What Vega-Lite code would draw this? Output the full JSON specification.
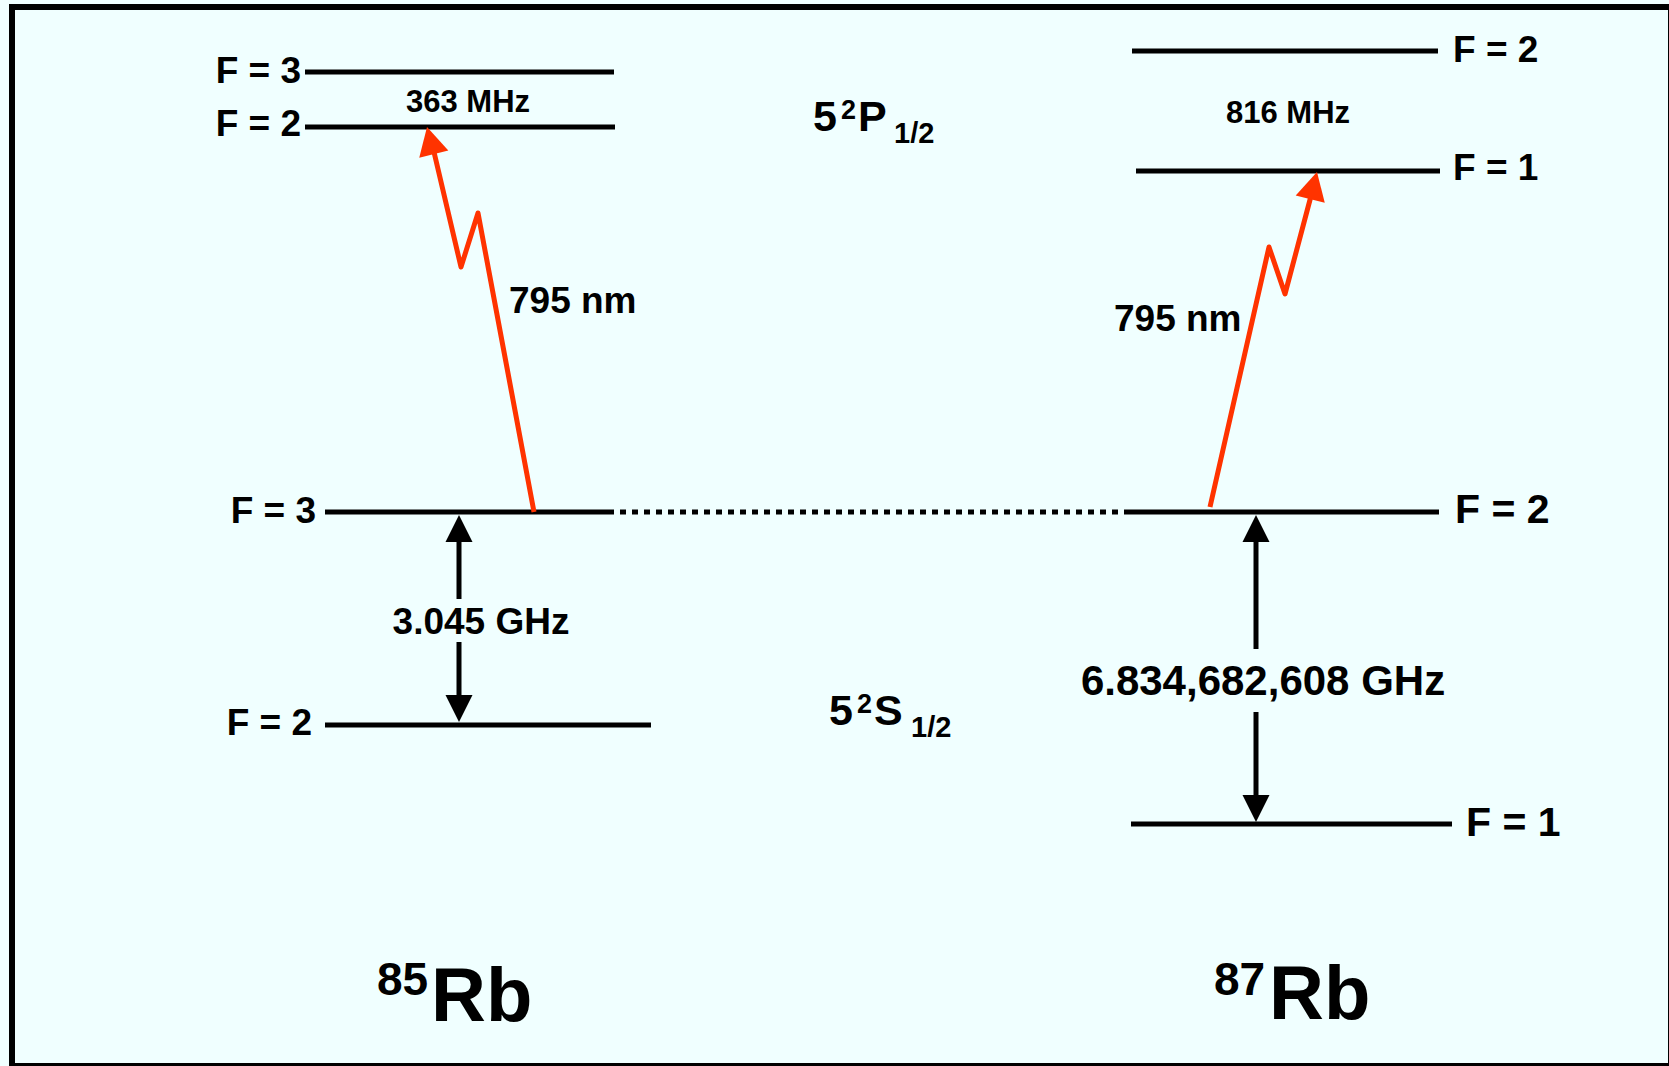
{
  "$schema": "https://vega.github.io/schema/vega-lite/v6.json",
  "width": 1669,
  "height": 1066,
  "autosize": {"type": "none"},
  "padding": 0,
  "background": "#F0FFFF",
  "config": {"view": {"stroke": null}, "text": {"font": "Liberation Sans", "fontWeight": "bold", "color": "#000000"}},
  "datasets": {
    "frame": [{"x_start": 12, "x_end": 1671, "y_top": 7, "y_bottom": 1066}],
    "levels": [
      {"isotope": "85Rb", "term": "5P1/2", "F": 3, "x_start": 305, "x_end": 614, "y": 72},
      {"isotope": "85Rb", "term": "5P1/2", "F": 2, "x_start": 305, "x_end": 615, "y": 127},
      {"isotope": "85Rb", "term": "5S1/2", "F": 3, "x_start": 325, "x_end": 608, "y": 512},
      {"isotope": "85Rb", "term": "5S1/2", "F": 2, "x_start": 325, "x_end": 651, "y": 725},
      {"isotope": "87Rb", "term": "5P1/2", "F": 2, "x_start": 1132, "x_end": 1438, "y": 51},
      {"isotope": "87Rb", "term": "5P1/2", "F": 1, "x_start": 1136, "x_end": 1440, "y": 171},
      {"isotope": "87Rb", "term": "5S1/2", "F": 2, "x_start": 1130, "x_end": 1439, "y": 512},
      {"isotope": "87Rb", "term": "5S1/2", "F": 1, "x_start": 1131, "x_end": 1452, "y": 824}
    ],
    "dotted": [{"x_start": 608, "x_end": 1130, "y": 512}],
    "shafts": [
      {"isotope": "85Rb", "x": 459, "y_from": 540, "y_to": 599},
      {"isotope": "85Rb", "x": 459, "y_from": 642, "y_to": 695},
      {"isotope": "87Rb", "x": 1256, "y_from": 540, "y_to": 649},
      {"isotope": "87Rb", "x": 1256, "y_from": 712, "y_to": 797}
    ],
    "heads": [
      {"kind": "up", "x": 459, "y": 515},
      {"kind": "down", "x": 459, "y": 722},
      {"kind": "up", "x": 1256, "y": 515},
      {"kind": "down", "x": 1256, "y": 822},
      {"kind": "photon85", "x": 427, "y": 127},
      {"kind": "photon87", "x": 1317, "y": 172}
    ],
    "photon": [
      {"arrow": "85Rb", "step": 1, "x": 534, "y": 512},
      {"arrow": "85Rb", "step": 2, "x": 478, "y": 213},
      {"arrow": "85Rb", "step": 3, "x": 461, "y": 267},
      {"arrow": "85Rb", "step": 4, "x": 434, "y": 152},
      {"arrow": "87Rb", "step": 1, "x": 1210, "y": 507},
      {"arrow": "87Rb", "step": 2, "x": 1269, "y": 247},
      {"arrow": "87Rb", "step": 3, "x": 1285, "y": 294},
      {"arrow": "87Rb", "step": 4, "x": 1311, "y": 196}
    ],
    "texts": [
      {"kind": "F_left", "text": "F = 3", "x": 301, "y": 72},
      {"kind": "F_left", "text": "F = 2", "x": 301, "y": 125},
      {"kind": "F_left", "text": "F = 3", "x": 316, "y": 512},
      {"kind": "F_left", "text": "F = 2", "x": 312, "y": 724},
      {"kind": "F_right", "text": "F = 2", "x": 1453, "y": 51},
      {"kind": "F_right", "text": "F = 1", "x": 1453, "y": 169},
      {"kind": "F_right_big", "text": "F = 2", "x": 1455, "y": 511},
      {"kind": "F_right_big", "text": "F = 1", "x": 1466, "y": 824},
      {"kind": "hfs", "text": "363 MHz", "x": 468, "y": 103},
      {"kind": "hfs", "text": "816 MHz", "x": 1288, "y": 114},
      {"kind": "wavelength", "text": "795 nm", "x": 509, "y": 302},
      {"kind": "wavelength", "text": "795 nm", "x": 1114, "y": 320},
      {"kind": "split85", "text": "3.045 GHz", "x": 481, "y": 623},
      {"kind": "split87", "text": "6.834,682,608 GHz", "x": 1263, "y": 682},
      {"kind": "term_main", "text": "5", "x": 813, "y": 131},
      {"kind": "term_main", "text": "P", "x": 858, "y": 131},
      {"kind": "term_main", "text": "5", "x": 829, "y": 725},
      {"kind": "term_main", "text": "S", "x": 874, "y": 725},
      {"kind": "term_sup", "text": "2", "x": 841, "y": 119},
      {"kind": "term_sup", "text": "2", "x": 857, "y": 713},
      {"kind": "term_sub", "text": "1/2", "x": 894, "y": 143},
      {"kind": "term_sub", "text": "1/2", "x": 911, "y": 737},
      {"kind": "iso_mass", "text": "85", "x": 377, "y": 995},
      {"kind": "iso_mass", "text": "87", "x": 1214, "y": 995},
      {"kind": "iso_sym", "text": "Rb", "x": 431, "y": 1021},
      {"kind": "iso_sym", "text": "Rb", "x": 1269, "y": 1019}
    ]
  },
  "layer": [
    {
      "data": {"name": "frame"},
      "mark": {"type": "rect", "fillOpacity": 0, "stroke": "#000000", "strokeWidth": 6},
      "encoding": {
        "x": {"field": "x_start", "type": "quantitative", "scale": {"domain": [0, 1669], "nice": false, "zero": false}, "axis": null},
        "x2": {"field": "x_end"},
        "y": {"field": "y_top", "type": "quantitative", "scale": {"domain": [0, 1066], "nice": false, "zero": false, "reverse": true}, "axis": null},
        "y2": {"field": "y_bottom"}
      }
    },
    {
      "data": {"name": "dotted"},
      "mark": {"type": "rule", "color": "#000000", "strokeWidth": 5, "strokeDash": [6, 6]},
      "encoding": {
        "x": {"field": "x_start", "type": "quantitative", "axis": null},
        "x2": {"field": "x_end"},
        "y": {"field": "y", "type": "quantitative", "axis": null}
      }
    },
    {
      "data": {"name": "levels"},
      "mark": {"type": "rule", "color": "#000000", "strokeWidth": 5},
      "encoding": {
        "x": {"field": "x_start", "type": "quantitative", "axis": null},
        "x2": {"field": "x_end"},
        "y": {"field": "y", "type": "quantitative", "axis": null}
      }
    },
    {
      "data": {"name": "shafts"},
      "mark": {"type": "rule", "color": "#000000", "strokeWidth": 5},
      "encoding": {
        "x": {"field": "x", "type": "quantitative", "axis": null},
        "y": {"field": "y_from", "type": "quantitative", "axis": null},
        "y2": {"field": "y_to"}
      }
    },
    {
      "data": {"name": "photon"},
      "mark": {"type": "line", "color": "#FF3300", "strokeWidth": 5, "strokeJoin": "round", "strokeCap": "butt"},
      "encoding": {
        "x": {"field": "x", "type": "quantitative", "axis": null},
        "y": {"field": "y", "type": "quantitative", "axis": null},
        "detail": {"field": "arrow"},
        "order": {"field": "step"}
      }
    },
    {
      "data": {"name": "heads"},
      "transform": [{"filter": "datum.kind == 'up'"}],
      "mark": {"type": "point", "shape": "M0,0L-1,2L1,2Z", "filled": true, "color": "#000000", "opacity": 1, "strokeWidth": 0, "size": 729, "angle": 0},
      "encoding": {
        "x": {"field": "x", "type": "quantitative", "axis": null},
        "y": {"field": "y", "type": "quantitative", "axis": null}
      }
    },
    {
      "data": {"name": "heads"},
      "transform": [{"filter": "datum.kind == 'down'"}],
      "mark": {"type": "point", "shape": "M0,0L-1,2L1,2Z", "filled": true, "color": "#000000", "opacity": 1, "strokeWidth": 0, "size": 729, "angle": 180},
      "encoding": {
        "x": {"field": "x", "type": "quantitative", "axis": null},
        "y": {"field": "y", "type": "quantitative", "axis": null}
      }
    },
    {
      "data": {"name": "heads"},
      "transform": [{"filter": "datum.kind == 'photon85'"}],
      "mark": {"type": "point", "shape": "M0,0L-1.07,2L1.07,2Z", "filled": true, "color": "#FF3300", "opacity": 1, "strokeWidth": 0, "size": 784, "angle": -14},
      "encoding": {
        "x": {"field": "x", "type": "quantitative", "axis": null},
        "y": {"field": "y", "type": "quantitative", "axis": null}
      }
    },
    {
      "data": {"name": "heads"},
      "transform": [{"filter": "datum.kind == 'photon87'"}],
      "mark": {"type": "point", "shape": "M0,0L-1.07,2L1.07,2Z", "filled": true, "color": "#FF3300", "opacity": 1, "strokeWidth": 0, "size": 784, "angle": 14},
      "encoding": {
        "x": {"field": "x", "type": "quantitative", "axis": null},
        "y": {"field": "y", "type": "quantitative", "axis": null}
      }
    },
    {
      "data": {"name": "texts"},
      "transform": [{"filter": "datum.kind == 'F_left'"}],
      "mark": {"type": "text", "fontSize": 37, "align": "right", "baseline": "middle"},
      "encoding": {"x": {"field": "x", "type": "quantitative", "axis": null}, "y": {"field": "y", "type": "quantitative", "axis": null}, "text": {"field": "text"}}
    },
    {
      "data": {"name": "texts"},
      "transform": [{"filter": "datum.kind == 'F_right'"}],
      "mark": {"type": "text", "fontSize": 37, "align": "left", "baseline": "middle"},
      "encoding": {"x": {"field": "x", "type": "quantitative", "axis": null}, "y": {"field": "y", "type": "quantitative", "axis": null}, "text": {"field": "text"}}
    },
    {
      "data": {"name": "texts"},
      "transform": [{"filter": "datum.kind == 'F_right_big'"}],
      "mark": {"type": "text", "fontSize": 41, "align": "left", "baseline": "middle"},
      "encoding": {"x": {"field": "x", "type": "quantitative", "axis": null}, "y": {"field": "y", "type": "quantitative", "axis": null}, "text": {"field": "text"}}
    },
    {
      "data": {"name": "texts"},
      "transform": [{"filter": "datum.kind == 'hfs'"}],
      "mark": {"type": "text", "fontSize": 31, "align": "center", "baseline": "middle"},
      "encoding": {"x": {"field": "x", "type": "quantitative", "axis": null}, "y": {"field": "y", "type": "quantitative", "axis": null}, "text": {"field": "text"}}
    },
    {
      "data": {"name": "texts"},
      "transform": [{"filter": "datum.kind == 'wavelength'"}],
      "mark": {"type": "text", "fontSize": 37, "align": "left", "baseline": "middle"},
      "encoding": {"x": {"field": "x", "type": "quantitative", "axis": null}, "y": {"field": "y", "type": "quantitative", "axis": null}, "text": {"field": "text"}}
    },
    {
      "data": {"name": "texts"},
      "transform": [{"filter": "datum.kind == 'split85'"}],
      "mark": {"type": "text", "fontSize": 37, "align": "center", "baseline": "middle"},
      "encoding": {"x": {"field": "x", "type": "quantitative", "axis": null}, "y": {"field": "y", "type": "quantitative", "axis": null}, "text": {"field": "text"}}
    },
    {
      "data": {"name": "texts"},
      "transform": [{"filter": "datum.kind == 'split87'"}],
      "mark": {"type": "text", "fontSize": 42, "align": "center", "baseline": "middle"},
      "encoding": {"x": {"field": "x", "type": "quantitative", "axis": null}, "y": {"field": "y", "type": "quantitative", "axis": null}, "text": {"field": "text"}}
    },
    {
      "data": {"name": "texts"},
      "transform": [{"filter": "datum.kind == 'term_main'"}],
      "mark": {"type": "text", "fontSize": 43, "align": "left", "baseline": "alphabetic"},
      "encoding": {"x": {"field": "x", "type": "quantitative", "axis": null}, "y": {"field": "y", "type": "quantitative", "axis": null}, "text": {"field": "text"}}
    },
    {
      "data": {"name": "texts"},
      "transform": [{"filter": "datum.kind == 'term_sup'"}],
      "mark": {"type": "text", "fontSize": 27, "align": "left", "baseline": "alphabetic"},
      "encoding": {"x": {"field": "x", "type": "quantitative", "axis": null}, "y": {"field": "y", "type": "quantitative", "axis": null}, "text": {"field": "text"}}
    },
    {
      "data": {"name": "texts"},
      "transform": [{"filter": "datum.kind == 'term_sub'"}],
      "mark": {"type": "text", "fontSize": 29, "align": "left", "baseline": "alphabetic"},
      "encoding": {"x": {"field": "x", "type": "quantitative", "axis": null}, "y": {"field": "y", "type": "quantitative", "axis": null}, "text": {"field": "text"}}
    },
    {
      "data": {"name": "texts"},
      "transform": [{"filter": "datum.kind == 'iso_mass'"}],
      "mark": {"type": "text", "fontSize": 46, "align": "left", "baseline": "alphabetic"},
      "encoding": {"x": {"field": "x", "type": "quantitative", "axis": null}, "y": {"field": "y", "type": "quantitative", "axis": null}, "text": {"field": "text"}}
    },
    {
      "data": {"name": "texts"},
      "transform": [{"filter": "datum.kind == 'iso_sym'"}],
      "mark": {"type": "text", "fontSize": 76, "align": "left", "baseline": "alphabetic"},
      "encoding": {"x": {"field": "x", "type": "quantitative", "axis": null}, "y": {"field": "y", "type": "quantitative", "axis": null}, "text": {"field": "text"}}
    }
  ]
}
